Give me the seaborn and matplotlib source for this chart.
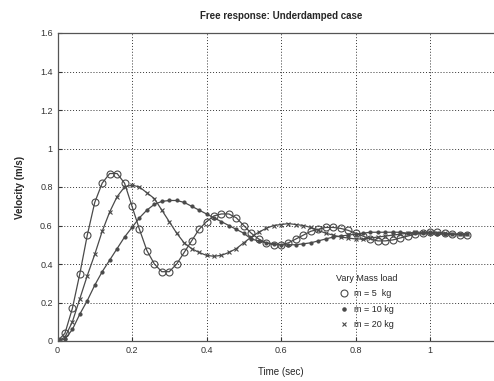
import numpy as np
import pandas as pd
import seaborn as sns
import matplotlib
matplotlib.use("Agg")
import matplotlib.pyplot as plt
from matplotlib.lines import Line2D

# Sample times (s)
time_s = [0.00, 0.02, 0.04, 0.06, 0.08, 0.10, 0.12, 0.14, 0.16, 0.18,
          0.20, 0.22, 0.24, 0.26, 0.28, 0.30, 0.32, 0.34, 0.36, 0.38,
          0.40, 0.42, 0.44, 0.46, 0.48, 0.50, 0.52, 0.54, 0.56, 0.58,
          0.60, 0.62, 0.64, 0.66, 0.68, 0.70, 0.72, 0.74, 0.76, 0.78,
          0.80, 0.82, 0.84, 0.86, 0.88, 0.90, 0.92, 0.94, 0.96, 0.98,
          1.00, 1.02, 1.04, 1.06, 1.08, 1.10]

# Velocity responses (m/s)
vel_m5 = [0.00, 0.04, 0.17, 0.35, 0.55, 0.72, 0.82, 0.87, 0.87, 0.82,
          0.70, 0.58, 0.47, 0.40, 0.36, 0.36, 0.40, 0.46, 0.52, 0.58,
          0.62, 0.65, 0.66, 0.66, 0.64, 0.60, 0.56, 0.53, 0.51, 0.50,
          0.50, 0.51, 0.53, 0.55, 0.57, 0.58, 0.59, 0.59, 0.585, 0.575,
          0.56, 0.545, 0.53, 0.52, 0.52, 0.525, 0.535, 0.545, 0.555, 0.56,
          0.565, 0.565, 0.56, 0.555, 0.55, 0.55]

vel_m10 = [0.00, 0.01, 0.06, 0.14, 0.21, 0.29, 0.36, 0.42, 0.48, 0.54,
           0.59, 0.64, 0.68, 0.71, 0.725, 0.73, 0.73, 0.72, 0.70, 0.68,
           0.66, 0.64, 0.62, 0.60, 0.58, 0.56, 0.53, 0.52, 0.51, 0.505,
           0.50, 0.50, 0.50, 0.505, 0.51, 0.52, 0.53, 0.54, 0.545, 0.55,
           0.555, 0.56, 0.565, 0.565, 0.565, 0.565, 0.565, 0.56, 0.56, 0.56,
           0.56, 0.555, 0.555, 0.555, 0.555, 0.555]

vel_m20 = [0.00, 0.02, 0.10, 0.22, 0.34, 0.45, 0.57, 0.67, 0.75, 0.80,
           0.81, 0.80, 0.77, 0.74, 0.68, 0.62, 0.56, 0.51, 0.48, 0.46,
           0.445, 0.44, 0.445, 0.46, 0.48, 0.51, 0.54, 0.565, 0.585, 0.60,
           0.605, 0.61, 0.605, 0.60, 0.59, 0.575, 0.56, 0.55, 0.54, 0.535,
           0.53, 0.53, 0.535, 0.54, 0.545, 0.55, 0.555, 0.56, 0.565, 0.565,
           0.565, 0.56, 0.56, 0.555, 0.555, 0.555]

series_labels = ["m = 5  kg", "m = 10 kg", "m = 20 kg"]
x_ticks = [0, 0.2, 0.4, 0.6, 0.8, 1.0]
x_tick_labels = ["0", "0.2", "0.4", "0.6", "0.8", "1"]
y_ticks = [0, 0.2, 0.4, 0.6, 0.8, 1.0, 1.2, 1.4, 1.6]
y_tick_labels = ["0", "0.2", "0.4", "0.6", "0.8", "1", "1.2", "1.4", "1.6"]

sns.set_style("white")
plt.rcParams["font.family"] = ["Liberation Sans", "DejaVu Sans"]

W, H = 494, 381
fig = plt.figure(figsize=(W / 100, H / 100), dpi=100)
ax = fig.add_axes([57.5 / W, (H - 341) / H, 447 / W, 308 / H])

line_col = "#4a4a4a"
styles = [
    dict(marker="o", markersize=5, markerfacecolor="none", markeredgewidth=0.8),
    dict(marker=".", markersize=4.5),
    dict(marker="x", markersize=2.8, markeredgewidth=0.8),
]
for vals, lab, st in zip([vel_m5, vel_m10, vel_m20], series_labels, styles):
    df = pd.DataFrame({"t": time_s, "v": vals})
    sns.lineplot(data=df, x="t", y="v", ax=ax, color=line_col, linewidth=0.9,
                 markeredgecolor=line_col, label=lab, legend=False, **st)

ax.set_xlim(0, 1.2)
ax.set_ylim(0, 1.6)
ax.set_xticks(x_ticks)
ax.set_xticklabels(x_tick_labels)
ax.set_yticks(y_ticks)
ax.set_yticklabels(y_tick_labels)
ax.grid(True, color="#333333", linestyle=(0, (1, 2)), linewidth=0.7)
ax.tick_params(labelsize=6.5, direction="in", length=3, colors="#333333",
               left=True, bottom=True)
for side in ["left", "bottom", "top"]:
    ax.spines[side].set_color("#555555")
    ax.spines[side].set_linewidth(0.9)
ax.spines["right"].set_visible(False)

ax.set_title("Free response: Underdamped case", fontsize=7, fontweight="bold",
             pad=10)
ax.set_xlabel("Time (sec)", fontsize=7, labelpad=9)
ax.set_ylabel("Velocity (m/s)", fontsize=7, fontweight="bold", labelpad=11)

handles = [Line2D([], [], color=line_col, linestyle="none", **st) for st in styles]
leg = fig.legend(handles, series_labels, title="Vary Mass load",
                 loc="upper left", bbox_to_anchor=(328 / W, 1 - 266 / H),
                 frameon=False, fontsize=6.5, title_fontsize=6.5,
                 handlelength=1.0, handletextpad=0.6, labelspacing=0.7)

fig.savefig("out.png", dpi=100)
